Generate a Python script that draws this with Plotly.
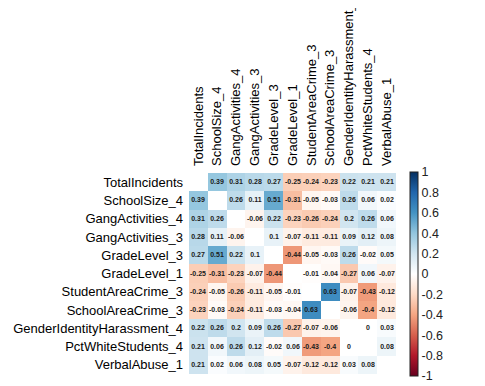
import plotly.graph_objects as go

labels = ["TotalIncidents", "SchoolSize_4", "GangActivities_4", "GangActivities_3",
          "GradeLevel_3", "GradeLevel_1", "StudentAreaCrime_3", "SchoolAreaCrime_3",
          "GenderIdentityHarassment_4", "PctWhiteStudents_4", "VerbalAbuse_1"]

r_total = [1, 0.39, 0.31, 0.28, 0.27, -0.25, -0.24, -0.23, 0.22, 0.21, 0.21]
r_size4 = [0.39, 1, 0.26, 0.11, 0.51, -0.31, -0.05, -0.03, 0.26, 0.06, 0.02]
r_gang4 = [0.31, 0.26, 1, -0.06, 0.22, -0.23, -0.26, -0.24, 0.2, 0.26, 0.06]
r_gang3 = [0.28, 0.11, -0.06, 1, 0.1, -0.07, -0.11, -0.11, 0.09, 0.12, 0.08]
r_grade3 = [0.27, 0.51, 0.22, 0.1, 1, -0.44, -0.05, -0.03, 0.26, -0.02, 0.05]
r_grade1 = [-0.25, -0.31, -0.23, -0.07, -0.44, 1, -0.01, -0.04, -0.27, 0.06, -0.07]
r_stucrime = [-0.24, -0.05, -0.26, -0.11, -0.05, -0.01, 1, 0.63, -0.07, -0.43, -0.12]
r_schcrime = [-0.23, -0.03, -0.24, -0.11, -0.03, -0.04, 0.63, 1, -0.06, -0.4, -0.12]
r_gender4 = [0.22, 0.26, 0.2, 0.09, 0.26, -0.27, -0.07, -0.06, 1, 0, 0.03]
r_white4 = [0.21, 0.06, 0.26, 0.12, -0.02, 0.06, -0.43, -0.4, 0, 1, 0.08]
r_verbal1 = [0.21, 0.02, 0.06, 0.08, 0.05, -0.07, -0.12, -0.12, 0.03, 0.08, 1]

rows = [r_total, r_size4, r_gang4, r_gang3, r_grade3, r_grade1,
        r_stucrime, r_schcrime, r_gender4, r_white4, r_verbal1]

colors = ["#67001F", "#B2182B", "#D6604D", "#F4A582", "#FDDBC7", "#FFFFFF",
          "#D1E5F0", "#92C5DE", "#4393C3", "#2166AC", "#053061"]
colorscale = [[i / 10, c] for i, c in enumerate(colors)]

cbar_vals = [1, 0.8, 0.6, 0.4, 0.2, 0, -0.2, -0.4, -0.6, -0.8, -1]
cbar_text = ["1", "0.8", "0.6", "0.4", "0.2", "0", "-0.2", "-0.4", "-0.6", "-0.8", "-1"]

z = []
text = []
for i, row in enumerate(rows):
    zr, tr = [], []
    for j, v in enumerate(row):
        if i == j:
            zr.append(None)
            tr.append("")
        else:
            zr.append(v)
            tr.append(f"{v:g}")
    z.append(zr)
    text.append(tr)

fig = go.Figure(go.Heatmap(
    z=z, x=labels, y=labels, text=text, texttemplate="<b>%{text}</b>",
    textfont=dict(size=7, color="#1a1a1a", family="Liberation Sans"),
    colorscale=colorscale, zmin=-1, zmax=1, hoverongaps=False,
    colorbar=dict(
        x=1.068, xanchor="left", xpad=0, y=0.4975, yanchor="middle", ypad=0,
        len=1.015, lenmode="fraction",
        thickness=8, outlinecolor="#222222", outlinewidth=1,
        tickvals=cbar_vals, ticktext=cbar_text,
        ticks="", ticklabelposition="outside",
        tickfont=dict(size=12.5, color="#222222", family="Liberation Sans"),
    ),
))

fig.update_layout(
    width=477, height=378,
    margin=dict(l=181, r=89, t=165, b=10),
    plot_bgcolor="white", paper_bgcolor="white",
    font=dict(family="Liberation Sans", color="black"),
)
fig.update_xaxes(side="top", tickangle=-90, showgrid=False, zeroline=False,
                 ticks="", tickfont=dict(size=13, color="black"),
                 ticklabelstandoff=6, automargin=False)
fig.update_yaxes(autorange="reversed", showgrid=False, zeroline=False,
                 ticks="", tickfont=dict(size=13, color="black"),
                 ticklabelstandoff=5, automargin=False)

fig.write_html("out.html")
